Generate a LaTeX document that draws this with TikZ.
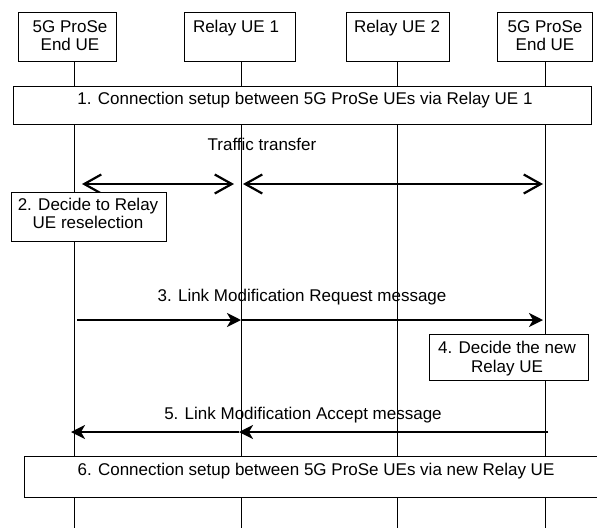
\documentclass[tikz,border=0pt]{standalone}
\usepackage{fontspec}
\setmainfont{Liberation Sans}
\usetikzlibrary{arrows.meta}
\begin{document}
\begin{tikzpicture}[x=1pt,y=-1pt,
  box/.style={draw, fill=white, line width=0.9pt, inner sep=0pt, anchor=north west},
  lbl/.style={inner sep=0pt, anchor=base, font=\fontsize{17}{18}\selectfont},
  life/.style={line width=0.9pt},
  trf/.style={line width=2.2pt, {Straight Barb[length=17pt,width=19pt]}-{Straight Barb[length=17pt,width=19pt]}},
  msg/.style={line width=2.2pt, -{Stealth[length=14pt,width=14pt,inset=4pt]}}]
\useasboundingbox (0,0) rectangle (597,528);
% header boxes
\node[box, minimum width=98pt, minimum height=49pt] (h1) at (18,12) {};
\node[box, minimum width=111pt, minimum height=49pt] (h2) at (184,12) {};
\node[box, minimum width=103pt, minimum height=49pt] (h3) at (346,12) {};
\node[box, minimum width=95pt, minimum height=49pt] (h4) at (497,12) {};
\node[lbl] (h1a) at (70,32) {5G ProSe};
\node[lbl] (h1b) at (70,50) {End UE};
\node[lbl] (h2a) at (236,32) {Relay UE 1};
\node[lbl] (h3a) at (397,32) {Relay UE 2};
\node[lbl] (h4a) at (545,32) {5G ProSe};
\node[lbl] (h4b) at (545,50) {End UE};
% lifelines
\coordinate (e1) at (74,528);
\coordinate (e2) at (241.5,528);
\coordinate (e3) at (397,528);
\coordinate (e4) at (545.5,528);
\draw[life] (h1.south -| e1) -- (e1);
\draw[life] (h2.south -| e2) -- (e2);
\draw[life] (h3.south -| e3) -- (e3);
\draw[life] (h4.south -| e4) -- (e4);
% step 1
\node[box, minimum width=578pt, minimum height=38pt] (s1) at (13,86) {};
\node[lbl] (s1t) at (305,104) {1. Connection setup between 5G ProSe UEs via Relay UE 1};
% traffic transfer
\node[lbl] (tt) at (262,150) {Traffic transfer};
\coordinate (p1) at (82,184);
\coordinate (p2) at (234,184);
\coordinate (p3) at (243,184);
\coordinate (p4) at (543,184);
\draw[trf] (p1) -- (p2);
\draw[trf] (p3) -- (p4);
% step 2
\node[box, minimum width=155pt, minimum height=49pt] (s2) at (11,192) {};
\node[lbl] (s2a) at (88,210) {2. Decide to Relay};
\node[lbl] (s2b) at (88,228) {UE reselection};
% step 3
\node[lbl] (m3) at (302,301) {3. Link Modification Request message};
\coordinate (q1) at (77,320);
\coordinate (q2) at (241,320);
\coordinate (q3) at (543,320);
\draw[msg] (q1) -- (q2);
\draw[msg] (q2) -- (q3);
% step 4
\node[box, minimum width=159pt, minimum height=46pt] (s4) at (429,334) {};
\node[lbl] (s4a) at (507,353) {4. Decide the new};
\node[lbl] (s4b) at (507,372) {Relay UE};
% step 5
\node[lbl] (m5) at (303,419) {5. Link Modification Accept message};
\coordinate (r1) at (548,432);
\coordinate (r2) at (239,432);
\coordinate (r3) at (71,432);
\draw[msg] (r1) -- (r2);
\draw[msg] (r2) -- (r3);
% step 6
\node[box, minimum width=572.5pt, minimum height=41pt] (s6) at (24,456) {};
\node[lbl] (s6t) at (316,475) {6. Connection setup between 5G ProSe UEs via new Relay UE};
\end{tikzpicture}
\end{document}
